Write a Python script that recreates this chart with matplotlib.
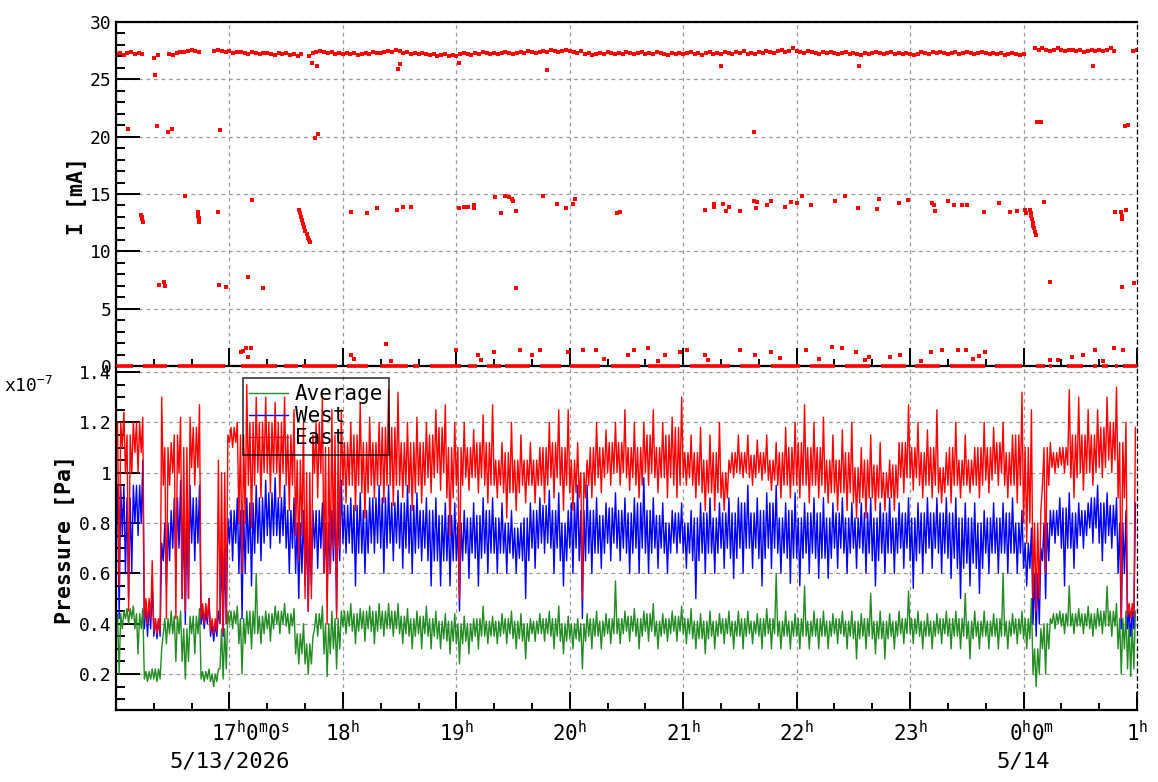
import numpy as np
import matplotlib
matplotlib.use('Agg')
import matplotlib.pyplot as plt
from matplotlib.ticker import MultipleLocator, FixedLocator
import matplotlib.transforms as mtransforms

plt.rcParams['font.family'] = ['DejaVu Sans Mono', 'DejaVu Sans']
plt.rcParams['mathtext.fontset'] = 'custom'
plt.rcParams['mathtext.rm'] = 'DejaVu Sans Mono'
plt.rcParams['mathtext.it'] = 'DejaVu Sans Mono'
plt.rcParams['mathtext.bf'] = 'DejaVu Sans Mono:bold'

nan = np.nan
# ---------------- beam current (mA), sampled every 2 minutes from 16:00 ----------------
band_I = [27.2,27.3,27.1,27.3,27.4,27.2,27.3,27.2, nan,nan, 26.9,27.1, nan,nan,
          27.2,27.1,27.3,27.4,27.4,27.5,27.6,27.5,27.4, nan,nan,nan,
          27.5,27.6,27.5,27.4,27.5,27.3,27.4,27.4,27.3,27.2,27.4,27.3,27.2,27.3,27.3,27.2,27.1,27.3,27.2,27.3,27.1,27.2,27.0,27.2,
          nan,
          27.0,27.3,27.4,27.5,27.4,27.3,27.4,27.2,27.3,27.2,
          27.3,27.2,27.3,27.1,27.2,27.3,27.2,27.4,27.3,27.3,
          27.4,27.5,27.4,27.6,27.5,27.3,27.4,27.2,27.3,27.2,
          27.3,27.2,27.1,27.2,27.0,27.1,27.2,27.0,27.1,27.0,
          27.2,27.3,27.2,27.1,27.3,27.2,27.4,27.3,27.2,27.3,
          27.2,27.3,27.4,27.3,27.2,27.3,27.4,27.3,27.5,27.4,
          27.3,27.4,27.5,27.4,27.6,27.5,27.4,27.5,27.6,27.5,
          27.4,27.3,27.5,27.2,27.3,27.1,27.2,27.3,27.2,27.4,
          27.3,27.2,27.3,27.2,27.4,27.3,27.2,27.3,27.4,27.2,
          27.3,27.2,27.4,27.3,27.2,27.1,27.3,27.2,27.3,27.2,
          27.3,27.4,27.2,27.3,27.1,27.3,27.4,27.2,27.3,27.2,
          27.4,27.3,27.2,27.4,27.3,27.5,27.2,27.3,27.2,27.4,
          27.3,27.5,27.4,27.3,27.5,27.6,27.4,27.5,27.7,27.5,
          27.4,27.3,27.5,27.4,27.3,27.2,27.4,27.3,27.4,27.3,
          27.2,27.3,27.4,27.2,27.3,27.2,27.1,27.3,27.2,27.3,
          27.4,27.3,27.2,27.3,27.4,27.2,27.3,27.2,27.3,27.2,
          27.1,27.2,27.4,27.3,27.2,27.4,27.3,27.4,27.3,27.2,
          27.3,27.4,27.2,27.3,27.4,27.3,27.2,27.3,27.4,27.3,
          27.2,27.3,27.2,27.3,27.1,27.2,27.3,27.2,27.1,27.2,
          nan,nan,
          27.7,27.6,27.7,27.6,27.5,27.6,27.7,27.6,27.5,27.6,27.6,27.5,27.6,27.4,27.5,27.6,27.5,27.6,27.5,27.6,27.7,27.5,
          nan,nan,nan,nan,
          27.5,27.6]

# periods (hour of day) where the current reads 0 mA
zero_start = [16.00,16.24,16.55,17.10,17.48,17.64,18.04,18.33,18.62,18.77,19.10,19.27,19.43,19.74,20.00,20.36,20.69,
              21.06,21.50,21.77,22.12,22.43,22.74,23.04,23.35,23.75,24.11,24.22,24.38,24.61,24.69,24.81,24.88]
zero_end   = [16.15,16.45,16.96,17.42,17.60,17.95,18.22,18.57,18.67,19.04,19.18,19.39,19.65,19.92,20.27,20.62,20.97,
              21.41,21.68,22.03,22.34,22.65,22.96,23.26,23.66,23.99,24.19,24.25,24.52,24.65,24.74,24.83,25.00]

# isolated readings (hour, mA)
pts_t = [16.11,16.34,16.36,16.46,16.49,16.92,17.75,17.78,21.62,24.12,24.15,24.89,24.92,
         17.73,17.77,18.49,18.50,19.02,19.80,21.33,22.55,24.61,
         16.22,16.225,16.23,16.235, 16.72,16.725,16.73,16.735,
         17.61,17.62,17.63,17.64,17.65,17.66,17.67,17.68,17.69,17.70,17.71,
         24.06,24.065,24.07,24.075,24.08,24.085,24.09,24.10,24.11,
         24.86,24.865,24.87,
         16.61,16.90,17.20,18.07,18.21,18.30,18.48,18.53,18.60,19.02,19.07,19.10,19.16,19.16,19.34,19.39,19.43,19.46,
         19.49,19.50,19.53,19.76,19.89,19.97,20.03,20.05,20.42,20.44,21.19,21.27,21.27,21.35,21.38,21.40,21.50,21.62,
         21.64,21.65,21.74,21.77,21.90,21.95,22.00,22.05,22.13,22.34,22.43,22.54,22.71,22.73,22.90,22.98,23.19,23.21,
         23.22,23.33,23.39,23.46,23.50,23.65,23.78,23.88,23.94,24.01,24.02,24.18,24.81,24.90,
         16.38,16.42,16.43,16.91,16.97,17.16,17.30,19.53,24.23,24.87,24.97,
         17.10,17.12,17.15,17.19,17.16,18.07,18.38,19.00,19.19,19.33,19.56,19.67,19.74,19.98,20.12,20.23,20.51,20.57,
         20.69,20.84,20.97,21.03,21.19,21.50,21.63,21.77,22.08,22.31,22.40,22.52,22.64,22.82,22.91,23.18,23.28,23.42,
         23.49,23.61,23.66,24.23,24.43,24.52,24.63,24.80,24.88,
         18.10,18.42,19.22,20.30,20.78,21.22,21.85,22.20,22.60,23.10,23.55,24.30,24.70]
pts_v = [20.7,25.4,20.9,20.4,20.7,20.6,19.9,20.2,20.4,21.3,21.3,20.9,21.0,
         26.4,26.2,25.9,26.3,26.4,25.8,26.2,26.2,26.2,
         13.2,13.0,12.8,12.6, 13.4,13.1,12.9,12.6,
         13.6,13.3,13.0,12.7,12.4,12.1,11.8,11.5,11.2,11.0,10.8,
         13.6,13.3,13.1,12.8,12.5,12.2,12.0,11.7,11.4,
         13.4,13.1,12.8,
         14.8,13.4,14.5,13.4,13.3,13.8,13.6,13.9,13.9,13.8,13.9,13.9,14.0,13.8,14.7,13.3,14.8,14.7,
         14.6,14.4,13.5,14.8,14.1,13.8,14.1,14.6,13.3,13.4,13.6,14.1,13.9,14.1,13.5,13.9,13.5,14.4,
         13.8,14.3,14.0,14.4,13.9,14.3,14.2,14.8,14.0,14.4,14.8,13.8,13.7,14.6,14.2,14.5,14.2,14.0,
         13.5,14.4,14.0,14.0,14.0,13.4,14.2,13.4,13.5,13.6,13.3,14.3,13.4,13.6,
         7.1,7.3,7.0,7.1,6.9,7.8,6.8,6.8,7.3,6.9,7.2,
         1.2,1.3,1.6,1.6,0.8,1.0,1.9,1.4,1.0,1.2,1.4,1.0,1.4,1.2,1.4,1.4,1.0,1.4,
         1.6,1.0,1.2,1.4,1.0,1.4,1.0,1.2,1.4,1.7,1.6,1.2,0.8,0.8,1.0,1.2,1.4,1.4,
         1.4,0.9,1.2,0.5,0.8,1.0,1.4,1.6,1.4,
         0.6,0.4,0.5,0.6,0.4,0.5,0.7,0.6,0.5,0.4,0.6,0.5,0.4]

# ---------------- pressure (x1e-7 Pa) in 5-minute bins from 16:00 ----------------
# extremes (lo / hi) and the dense core of the readings in each bin
east_lo = [0.55,0.45,1.00,0.40,0.36,0.42,0.42,0.45,0.95,0.40,0.36,0.36,1.10,0.60,0.78,0.90,0.92,0.90,0.85,0.65,
           0.45,0.90,0.40,0.42,0.88,0.85,0.82,0.90,0.88,0.87,0.90,0.85,0.88,0.92,0.93,0.75,0.50,0.93,0.92,0.88,
           0.90,0.82,0.85,0.88,0.88,0.88,0.90,0.85,0.85,0.50,0.90,0.92,0.95,0.95,0.93,0.90,0.95,0.92,0.90,0.90,
           0.95,0.90,0.85,0.85,0.85,0.98,0.98,0.95,0.97,0.93,0.90,0.90,0.90,0.88,0.90,0.88,0.85,0.85,0.82,0.82,
           0.85,0.85,0.85,0.92,0.93,0.90,0.90,0.88,0.88,0.90,0.92,0.90,0.92,0.95,0.90,0.88,0.72,0.45,0.60,1.00,
           1.00,0.90,0.93,0.95,0.98,1.00,0.42,0.42]
east_hi = [1.24,1.20,1.22,0.65,1.30,1.12,1.22,1.22,1.27,0.50,1.05,1.15,1.20,1.35,1.30,1.30,1.28,1.30,1.25,1.20,
           1.15,1.30,1.25,1.25,1.20,1.28,1.22,1.20,1.33,1.32,1.20,1.22,1.20,1.25,1.27,1.20,1.20,1.17,1.23,1.27,
           1.12,1.20,1.15,1.12,1.10,1.20,1.25,1.25,1.12,1.05,1.20,1.17,1.20,1.25,1.20,1.20,1.25,1.20,1.22,1.30,
           1.15,1.18,1.15,1.20,1.05,1.15,1.15,1.13,1.15,1.12,1.18,1.20,1.27,1.20,1.22,1.15,1.17,1.20,1.10,1.15,
           1.12,1.05,1.12,1.27,1.20,1.17,1.25,1.08,1.20,1.15,1.10,1.20,1.18,1.20,1.15,1.32,1.25,0.85,1.12,1.10,
           1.33,1.30,1.25,1.25,1.30,1.34,1.20,1.18]
east_core_lo = [1.10,1.00,1.08,0.42,0.37,0.95,1.00,0.50,1.02,0.42,0.37,0.40,1.12,0.80,0.95,1.00,1.00,1.00,0.95,0.75,
                0.50,1.00,0.60,0.70,0.95,0.95,0.92,0.95,0.95,0.95,0.95,0.92,0.95,0.98,1.00,0.90,0.95,0.98,0.98,0.95,
                0.95,0.92,0.92,0.95,0.95,0.95,0.98,0.95,0.92,0.90,0.95,0.98,1.00,1.00,0.98,0.95,1.00,0.98,0.98,0.95,
                0.98,0.95,0.92,0.92,0.90,1.00,1.00,0.98,1.00,0.97,0.95,0.95,0.95,0.95,0.95,0.92,0.92,0.92,0.88,0.90,
                0.90,0.90,0.90,0.98,0.98,0.95,0.95,0.92,0.95,0.95,0.95,0.95,0.97,1.00,0.95,0.95,0.80,0.50,0.95,1.02,
                1.03,0.98,1.00,1.00,1.02,1.05,0.90,0.43]
east_core_hi = [1.20,1.15,1.20,0.50,0.42,1.10,1.15,1.10,1.18,0.48,0.42,1.00,1.18,1.15,1.20,1.20,1.20,1.20,1.15,1.05,
                1.00,1.20,1.10,1.15,1.12,1.15,1.12,1.12,1.18,1.18,1.12,1.12,1.12,1.15,1.18,1.10,1.10,1.10,1.12,1.12,
                1.05,1.08,1.05,1.05,1.05,1.10,1.12,1.10,1.05,1.00,1.10,1.10,1.12,1.12,1.10,1.10,1.15,1.10,1.15,1.18,
                1.08,1.08,1.05,1.08,1.00,1.08,1.08,1.07,1.08,1.05,1.08,1.10,1.12,1.10,1.10,1.05,1.05,1.08,1.02,1.05,
                1.03,1.00,1.03,1.12,1.10,1.08,1.10,1.02,1.10,1.05,1.05,1.10,1.10,1.12,1.08,1.15,1.10,0.80,1.10,1.08,
                1.10,1.15,1.15,1.15,1.18,1.20,1.12,0.48]
west_lo = [0.42,0.50,0.75,0.35,0.34,0.55,0.60,0.40,0.65,0.38,0.33,0.35,0.65,0.42,0.55,0.65,0.70,0.72,0.60,0.50,
           0.45,0.62,0.50,0.45,0.68,0.55,0.60,0.68,0.60,0.65,0.62,0.60,0.65,0.55,0.55,0.55,0.45,0.58,0.55,0.60,
           0.60,0.60,0.60,0.50,0.62,0.68,0.60,0.55,0.60,0.42,0.60,0.62,0.65,0.65,0.60,0.60,0.60,0.62,0.60,0.68,
           0.62,0.50,0.60,0.60,0.62,0.58,0.60,0.62,0.55,0.62,0.60,0.56,0.55,0.60,0.58,0.58,0.62,0.60,0.62,0.60,
           0.55,0.60,0.60,0.62,0.54,0.60,0.62,0.60,0.58,0.50,0.55,0.52,0.60,0.60,0.60,0.60,0.55,0.35,0.50,0.72,
           0.55,0.62,0.70,0.72,0.65,0.70,0.38,0.35]
west_hi = [0.95,0.95,1.05,0.55,0.72,0.85,0.97,0.95,0.95,0.50,0.45,0.82,0.90,0.90,0.95,0.97,0.98,0.95,0.90,0.85,
           0.85,0.88,0.85,0.97,0.90,0.92,0.90,0.95,0.95,0.93,0.95,0.92,0.90,0.90,0.88,0.88,0.85,0.88,0.90,0.90,
           0.88,0.85,0.80,0.88,0.90,0.93,0.92,0.85,0.95,0.95,0.90,0.88,0.92,0.90,0.90,0.98,0.90,0.88,0.85,0.88,
           0.85,0.88,0.90,0.88,0.90,0.90,0.95,0.90,0.92,0.95,0.88,0.92,0.88,0.90,0.90,0.88,0.90,0.88,0.88,0.90,
           0.88,0.90,0.88,0.90,0.88,0.90,0.90,0.90,0.90,0.88,0.88,0.85,0.88,0.88,0.90,0.85,0.78,0.70,0.85,0.90,
           0.92,0.88,0.88,0.95,0.92,0.90,0.85,0.88]
west_core_lo = [0.75,0.60,0.80,0.38,0.35,0.65,0.70,0.50,0.72,0.40,0.35,0.40,0.72,0.60,0.68,0.72,0.75,0.75,0.70,0.60,
                0.55,0.70,0.60,0.65,0.72,0.68,0.68,0.72,0.70,0.72,0.70,0.68,0.70,0.65,0.65,0.65,0.65,0.68,0.66,0.68,
                0.68,0.68,0.66,0.65,0.70,0.72,0.70,0.65,0.70,0.65,0.68,0.68,0.72,0.70,0.68,0.70,0.68,0.70,0.68,0.72,
                0.68,0.65,0.68,0.68,0.70,0.66,0.70,0.70,0.66,0.70,0.68,0.66,0.66,0.68,0.66,0.66,0.70,0.68,0.70,0.68,
                0.65,0.68,0.68,0.70,0.65,0.68,0.70,0.68,0.66,0.62,0.64,0.62,0.68,0.68,0.68,0.68,0.62,0.40,0.65,0.75,
                0.70,0.70,0.75,0.78,0.72,0.75,0.60,0.38]
west_core_hi = [0.95,0.90,0.95,0.48,0.42,0.80,0.90,0.85,0.90,0.45,0.40,0.70,0.85,0.85,0.88,0.90,0.92,0.90,0.85,0.80,
                0.78,0.85,0.80,0.88,0.87,0.87,0.85,0.90,0.90,0.88,0.88,0.87,0.85,0.85,0.83,0.83,0.80,0.82,0.83,0.85,
                0.82,0.80,0.78,0.82,0.85,0.87,0.85,0.80,0.88,0.85,0.85,0.83,0.86,0.85,0.84,0.88,0.85,0.83,0.80,0.84,
                0.80,0.82,0.84,0.82,0.84,0.84,0.88,0.84,0.85,0.88,0.82,0.85,0.82,0.84,0.84,0.82,0.84,0.82,0.82,0.84,
                0.82,0.84,0.82,0.84,0.82,0.84,0.84,0.84,0.84,0.82,0.82,0.80,0.82,0.82,0.84,0.80,0.72,0.60,0.80,0.85,
                0.86,0.84,0.85,0.90,0.88,0.87,0.80,0.45]
avg_lo = [0.20,0.40,0.28,0.17,0.17,0.32,0.25,0.18,0.28,0.17,0.15,0.18,0.38,0.20,0.30,0.32,0.33,0.36,0.36,0.24,
          0.20,0.35,0.19,0.22,0.36,0.32,0.33,0.32,0.35,0.35,0.32,0.30,0.30,0.30,0.30,0.28,0.24,0.28,0.30,0.32,
          0.32,0.32,0.30,0.26,0.33,0.33,0.30,0.28,0.30,0.22,0.30,0.30,0.32,0.32,0.33,0.30,0.33,0.30,0.33,0.33,
          0.32,0.30,0.28,0.30,0.32,0.30,0.30,0.32,0.30,0.30,0.30,0.30,0.30,0.30,0.30,0.30,0.32,0.30,0.26,0.30,
          0.28,0.26,0.30,0.32,0.32,0.30,0.30,0.32,0.30,0.30,0.26,0.30,0.30,0.30,0.30,0.32,0.30,0.15,0.20,0.38,
          0.36,0.36,0.36,0.35,0.36,0.35,0.20,0.19]
avg_hi = [0.45,0.47,0.46,0.22,0.30,0.45,0.45,0.43,0.46,0.22,0.22,0.45,0.47,0.45,0.60,0.45,0.47,0.48,0.46,0.40,
          0.35,0.47,0.45,0.45,0.48,0.46,0.47,0.48,0.48,0.48,0.46,0.45,0.47,0.45,0.44,0.44,0.43,0.42,0.47,0.43,
          0.44,0.45,0.44,0.42,0.44,0.45,0.47,0.43,0.42,0.44,0.45,0.44,0.57,0.45,0.46,0.45,0.48,0.44,0.45,0.47,
          0.46,0.44,0.45,0.44,0.45,0.45,0.45,0.44,0.46,0.60,0.45,0.44,0.55,0.45,0.45,0.44,0.45,0.45,0.44,0.52,
          0.45,0.44,0.45,0.53,0.45,0.44,0.44,0.45,0.45,0.52,0.45,0.45,0.44,0.60,0.44,0.45,0.50,0.38,0.42,0.45,
          0.55,0.46,0.47,0.46,0.55,0.48,0.45,0.45]
avg_core_lo = [0.38,0.42,0.38,0.18,0.18,0.36,0.36,0.25,0.36,0.18,0.17,0.22,0.40,0.32,0.36,0.36,0.38,0.40,0.39,0.28,
               0.24,0.38,0.28,0.30,0.39,0.37,0.38,0.37,0.38,0.38,0.36,0.35,0.36,0.35,0.34,0.33,0.32,0.33,0.35,0.35,
               0.35,0.36,0.34,0.33,0.36,0.36,0.35,0.33,0.34,0.33,0.35,0.35,0.36,0.36,0.37,0.35,0.37,0.35,0.36,0.37,
               0.36,0.34,0.34,0.35,0.36,0.35,0.35,0.36,0.35,0.36,0.35,0.35,0.35,0.35,0.35,0.35,0.36,0.35,0.34,0.35,
               0.34,0.34,0.35,0.36,0.36,0.35,0.35,0.36,0.35,0.35,0.34,0.35,0.35,0.35,0.35,0.36,0.34,0.20,0.30,0.40,
               0.39,0.39,0.39,0.38,0.39,0.39,0.30,0.22]
avg_core_hi = [0.44,0.46,0.44,0.21,0.22,0.42,0.43,0.38,0.43,0.21,0.20,0.38,0.45,0.42,0.45,0.43,0.44,0.45,0.44,0.36,
               0.32,0.44,0.40,0.42,0.45,0.44,0.45,0.45,0.45,0.45,0.43,0.42,0.43,0.42,0.41,0.41,0.40,0.40,0.42,0.41,
               0.41,0.42,0.41,0.40,0.41,0.42,0.42,0.40,0.40,0.40,0.42,0.41,0.42,0.42,0.43,0.42,0.44,0.41,0.42,0.43,
               0.42,0.41,0.41,0.41,0.42,0.41,0.42,0.41,0.42,0.42,0.41,0.41,0.42,0.41,0.42,0.41,0.42,0.41,0.41,0.42,
               0.41,0.41,0.41,0.42,0.42,0.41,0.41,0.42,0.42,0.42,0.41,0.41,0.41,0.42,0.41,0.42,0.42,0.30,0.40,0.44,
               0.44,0.44,0.44,0.44,0.45,0.45,0.42,0.40]

hour_ticks = [17, 18, 19, 20, 21, 22, 23, 24, 25]
hour_labels = ['17$^{h}$0$^{m}$0$^{s}$', '18$^{h}$', '19$^{h}$', '20$^{h}$', '21$^{h}$',
               '22$^{h}$', '23$^{h}$', '0$^{h}$0$^{m}$', '1$^{h}$']
date_ticks = [17, 24]
date_labels = ['5/13/2026', '5/14']
I_ticks = [0, 5, 10, 15, 20, 25, 30]
P_ticks = [0.2, 0.4, 0.6, 0.8, 1.0, 1.2, 1.4]
P_tick_labels = ['0.2', '0.4', '0.6', '0.8', '1', '1.2', '1.4']

# ---------------- figure ----------------
W, H = 1158, 782
fig = plt.figure(figsize=(W / 100, H / 100), dpi=100)
ax1 = fig.add_axes([116 / W, 1 - 366 / H, 1021 / W, 344 / H])
ax2 = fig.add_axes([116 / W, 1 - 710 / H, 1021 / W, 342 / H])

for ax in (ax1, ax2):
    ax.set_xlim(16, 25)
    ax.xaxis.set_major_locator(MultipleLocator(1))
    ax.xaxis.set_minor_locator(MultipleLocator(1 / 3))
    ax.tick_params(axis='x', which='major', direction='in', length=13, width=1.4,
                   labelbottom=False, top=False)
    ax.tick_params(axis='x', which='minor', direction='in', length=5, width=1.4, top=False)
    ax.tick_params(axis='y', which='major', direction='in', length=17, width=1.4,
                   labelsize=13, right=False, pad=3)
    ax.tick_params(axis='y', which='minor', direction='in', length=6.5, width=1.4, right=False)
    ax.grid(True, which='major', color='#999999', linestyle=(0, (3, 3)), linewidth=0.9)
    ax.set_axisbelow('line')
    ax.spines['left'].set_linewidth(1.6)
    ax.spines['bottom'].set_linewidth(1.6)
    ax.spines['right'].set_linestyle((0, (3, 3)))
    ax.spines['right'].set_linewidth(0.9)

ax1.spines['top'].set_linewidth(1.6)
ax2.spines['top'].set_visible(False)

# top panel: current
ax1.set_ylim(0, 30)
ax1.yaxis.set_major_locator(FixedLocator(I_ticks))
ax1.yaxis.set_minor_locator(MultipleLocator(1))
ax1.set_yticklabels([str(v) for v in I_ticks])
band_t = 16 + np.arange(len(band_I)) / 30.0
ax1.plot(band_t, band_I, linestyle='none', marker='s', ms=3.2, mew=0, color='#ff0000')
ax1.plot(pts_t, pts_v, linestyle='none', marker='s', ms=2.8, mew=0, color='#ff0000')
ax1.hlines([0] * len(zero_start), zero_start, zero_end, colors='#ff0000', linewidth=2.6,
           zorder=3, clip_on=False)

# bottom panel: pressure
ax2.set_ylim(0.057, 1.416)
ax2.yaxis.set_major_locator(FixedLocator(P_ticks))
ax2.yaxis.set_minor_locator(MultipleLocator(0.05))
ax2.set_yticklabels(P_tick_labels)

# inside each 5-minute bin the trace runs core_lo -> core_hi -> lo -> core_hi -> core_lo -> hi
t0 = 16 + np.arange(len(east_lo)) / 12.0
tx = (t0[:, None] + np.arange(6)[None, :] / 72.0).ravel()

def trace(lo, hi, clo, chi):
    return np.column_stack([clo, chi, lo, chi, clo, hi]).ravel()

series = [('Average', '#228b22', avg_lo, avg_hi, avg_core_lo, avg_core_hi),
          ('West', '#0000ff', west_lo, west_hi, west_core_lo, west_core_hi),
          ('East', '#ff0000', east_lo, east_hi, east_core_lo, east_core_hi)]
handles = []
for name, col, lo, hi, clo, chi in series:
    ln, = ax2.plot(tx, trace(lo, hi, clo, chi), color=col, lw=1.0, label=name, zorder=2)
    handles.append(ln)

leg = ax2.legend(handles=handles, loc='upper left', bbox_to_anchor=(0.124, 0.971),
                 borderaxespad=0, fontsize=15, handlelength=1.9, handletextpad=0.3,
                 labelspacing=0.1, borderpad=0.3, fancybox=False, edgecolor='black',
                 facecolor='none', framealpha=None)
leg.get_frame().set_linewidth(1.2)
leg.set_zorder(10)

# x labels (time axis)
trans = mtransforms.blended_transform_factory(ax2.transData, ax2.transAxes)
label_shift = {17: 0.185, 24: 0.07}
for h, lab in zip(hour_ticks, hour_labels):
    ax2.text(h + label_shift.get(h, 0.0), -0.0906, lab, transform=trans, ha='center',
             va='baseline', fontsize=15, clip_on=False)
for h, lab in zip(date_ticks, date_labels):
    ax2.text(h, -0.1667, lab, transform=trans, ha='center', va='baseline', fontsize=16,
             clip_on=False)

fig.text(77 / W, 1 - 196 / H, 'I [mA]', rotation=90, ha='center', va='center',
         fontsize=15.5, fontweight='bold')
fig.text(65 / W, 1 - 539 / H, 'Pressure [Pa]', rotation=90, ha='center', va='center',
         fontsize=15.5, fontweight='bold')
fig.text(4 / W, 1 - 392 / H, 'x10$^{-7}$', ha='left', va='baseline', fontsize=13)

fig.savefig('out.png', dpi=100)
